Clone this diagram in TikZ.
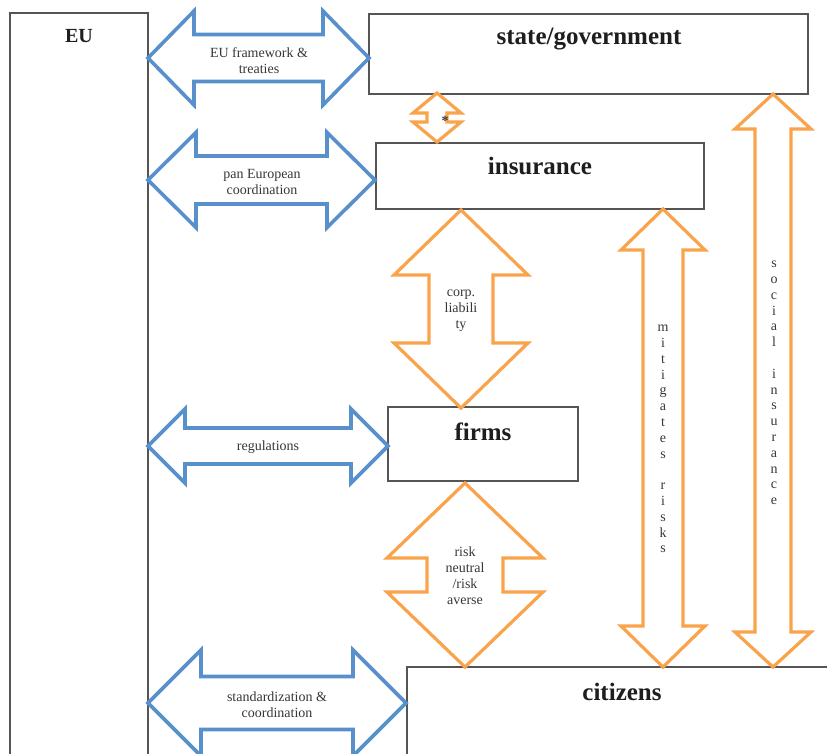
\documentclass[tikz,border=0pt]{standalone}
\usepackage{fontspec}
\setmainfont{Liberation Serif}
\definecolor{eublue}{RGB}{88,144,204}
\definecolor{riskorange}{RGB}{249,163,74}
\definecolor{boxline}{RGB}{85,85,85}
\definecolor{labeltext}{RGB}{55,55,55}
\definecolor{titletext}{RGB}{30,30,30}
% horizontal double block arrow: style, left tip x, right tip x, centre y, head half-height, shaft half-height, head length
\newcommand\hblock[7]{%
  \draw[#1] (#2,#4) -- (#2+#7,#4-#5) -- (#2+#7,#4-#6) -- (#3-#7,#4-#6) -- (#3-#7,#4-#5)
    -- (#3,#4) -- (#3-#7,#4+#5) -- (#3-#7,#4+#6) -- (#2+#7,#4+#6) -- (#2+#7,#4+#5) -- cycle;}
% vertical double block arrow: style, centre x, top tip y, bottom tip y, head half-width, shaft half-width, head length
\newcommand\vblock[7]{%
  \draw[#1] (#2,#3) -- (#2+#5,#3+#7) -- (#2+#6,#3+#7) -- (#2+#6,#4-#7) -- (#2+#5,#4-#7)
    -- (#2,#4) -- (#2-#5,#4-#7) -- (#2-#6,#4-#7) -- (#2-#6,#3+#7) -- (#2-#5,#3+#7) -- cycle;}
\tikzset{
  bluearrow/.style={draw=eublue, line width=3.6pt, line join=miter, fill=white},
  orangearrow/.style={draw=riskorange, line width=3.2pt, line join=miter, fill=white},
  boxedge/.style={draw=boxline, line width=1.1pt},
  title/.style={font=\fontsize{25}{29}\selectfont\bfseries, text=titletext, inner sep=0pt},
  arrowlabel/.style={font=\fontsize{14}{16}\selectfont, text=labeltext, align=center, inner sep=0pt},
  spelled/.style={font=\fontsize{14}{15.8}\selectfont, text=labeltext, align=center, inner sep=0pt},
}
\begin{document}
\begin{tikzpicture}[x=1pt, y=-1pt]
\useasboundingbox[fill=white] (0,0) rectangle (827,753);
\clip (0,0) rectangle (827,753);

% actor boxes
\draw[boxedge] (10,760) -- (10,13) -- (148,13) -- (148,760);
\draw[boxedge] (369,14) rectangle (808,94);
\draw[boxedge] (376,143) rectangle (704,209);
\draw[boxedge] (388,407) rectangle (578,481);
\draw[boxedge] (407,760) -- (407,667) -- (830,667);

% links between the EU and the national actors
\hblock{bluearrow}{148}{369}{58}{47}{23.5}{46}
\hblock{bluearrow}{148}{375}{180}{47.5}{24}{48}
\hblock{bluearrow}{148}{388}{446}{37}{18}{37}
\hblock{bluearrow}{148}{406}{703}{53}{26.5}{53}

% links between the national actors
\vblock{orangearrow}{437}{93}{142}{24}{10}{20}
\vblock{orangearrow}{461}{210}{408}{67}{32}{65}
\vblock{orangearrow}{465}{483}{667}{78}{38}{75}
\vblock{orangearrow}{663}{209}{667}{42}{20}{41}
\vblock{orangearrow}{773}{94}{667}{38}{18}{35}

% box titles
\node[title, font=\fontsize{20}{24}\selectfont\bfseries] (eu) at (79,36) {EU};
\node[title] (state) at (589,39) {state/government};
\node[title] (ins) at (540,166) {insurance};
\node[title] (firms) at (483,432) {firms};
\node[title] (cit) at (622,692) {citizens};

% arrow labels
\node[arrowlabel] (lframe) at (259,61) {EU framework \&\\treaties};
\node[arrowlabel] (lpan) at (262,182) {pan European\\coordination};
\node[arrowlabel] (lreg) at (268,447) {regulations};
\node[arrowlabel] (lstd) at (277,705) {standardization \&\\coordination};
\node[arrowlabel, font=\fontsize{14}{14}\selectfont\bfseries] (lstar) at (445,121) {*};
\node[arrowlabel] (lcorp) at (461,311) {corp.\\liabili\\ty};
\node[arrowlabel] (lrisk) at (465,576) {risk\\neutral\\/risk\\averse};
\node[spelled] (lmit) at (663,439) {m\\i\\t\\i\\g\\a\\t\\e\\s\\~\\r\\i\\s\\k\\s};
\node[spelled] (lsoc) at (774,383) {s\\o\\c\\i\\a\\l\\~\\i\\n\\s\\u\\r\\a\\n\\c\\e};
\end{tikzpicture}
\end{document}
